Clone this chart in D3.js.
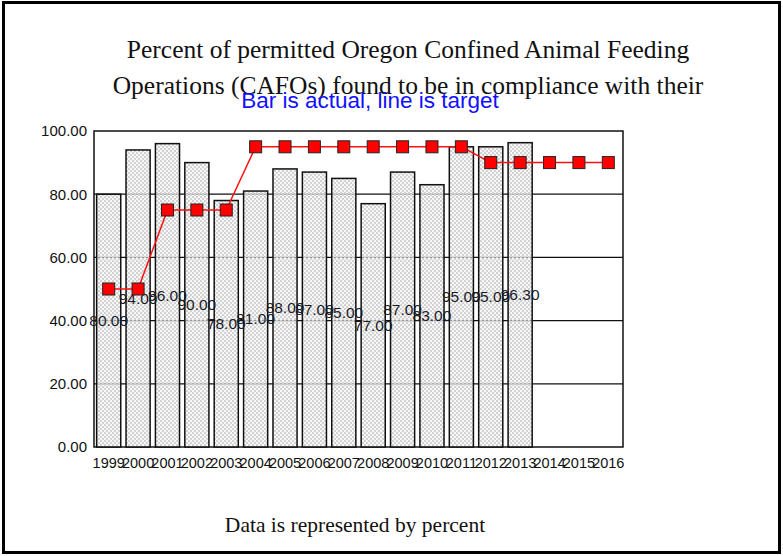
<!DOCTYPE html>
<html>
<head>
<meta charset="utf-8">
<script src="https://cdn.jsdelivr.net/npm/d3@7/dist/d3.min.js"></script>
<style>
  html, body { margin: 0; padding: 0; background: #fff; }
  svg { display: block; }
</style>
</head>
<body>
<svg id="chart" width="783" height="556"></svg>
<script>
// ---- data ----
const years = ["1999","2000","2001","2002","2003","2004","2005","2006","2007","2008","2009","2010","2011","2012","2013","2014","2015","2016"];
const actual = [80, 94, 96, 90, 78, 81, 88, 87, 85, 77, 87, 83, 95, 95, 96.3, null, null, null];
const target = [50, 50, 75, 75, 75, 95, 95, 95, 95, 95, 95, 95, 95, 90, 90, 90, 90, 90];
const yTicks = [0, 20, 40, 60, 80, 100];
const titleLines = ["Percent of permitted Oregon Confined Animal Feeding", "Operations (CAFOs) found to be in compliance with their"];
const subtitle = "Bar is actual, line is target";
const footer = "Data is represented by percent";

const svg = d3.select("#chart");
const W = 783, H = 556;
const plot = { left: 94, right: 623, top: 131, bottom: 447 };

// pattern for bars
const defs = svg.append("defs");
const pat = defs.append("pattern")
  .attr("id", "hatch").attr("patternUnits", "userSpaceOnUse")
  .attr("width", 4).attr("height", 4);
pat.append("rect").attr("x", 0).attr("y", 0).attr("width", 4).attr("height", 4).attr("fill", "#f2f2f2").attr("fill-opacity", 0.6);
pat.append("rect").attr("x", 0).attr("y", 0).attr("width", 2).attr("height", 2).attr("fill", "#d2d2d2");
pat.append("rect").attr("x", 2).attr("y", 2).attr("width", 2).attr("height", 2).attr("fill", "#d2d2d2");

// outer frame
svg.append("rect").attr("x", 3.5).attr("y", 2.5).attr("width", W - 7).attr("height", H - 6)
  .attr("fill", "#fff").attr("stroke", "#000").attr("stroke-width", 3);

const x = d3.scaleBand().domain(years).range([plot.left, plot.right])
  .paddingInner(0.18).paddingOuter(0.09);
const y = d3.scaleLinear().domain([0, 100]).range([plot.bottom, plot.top]);

// gridlines
svg.append("g").selectAll("line").data(yTicks.filter(d => d > 0 && d < 100)).join("line")
  .attr("x1", plot.left).attr("x2", plot.right)
  .attr("y1", d => y(d)).attr("y2", d => y(d))
  .attr("stroke", "#111").attr("stroke-width", 1.2);

// frame
svg.append("rect").attr("x", plot.left).attr("y", plot.top)
  .attr("width", plot.right - plot.left).attr("height", plot.bottom - plot.top)
  .attr("fill", "none").attr("stroke", "#111").attr("stroke-width", 1.5);

// y axis
const yAxis = d3.axisLeft(y).tickValues(yTicks).tickFormat(d3.format(".2f")).tickSize(0).tickPadding(7);
const yg = svg.append("g").attr("transform", `translate(${plot.left},0)`).call(yAxis);
yg.select(".domain").remove();
yg.selectAll("text").attr("font-family", "Arial, 'Liberation Sans', sans-serif").attr("font-size", 15).attr("fill", "#111");

// x axis
const xAxis = d3.axisBottom(x).tickSize(0).tickPadding(11);
const xg = svg.append("g").attr("transform", `translate(0,${plot.bottom})`).call(xAxis);
xg.select(".domain").remove();
xg.selectAll("text").attr("font-family", "Arial, 'Liberation Sans', sans-serif").attr("font-size", 14.5).attr("fill", "#111");

// bars
const barData = years.map((yr, i) => ({ yr, v: actual[i] })).filter(d => d.v != null);
svg.append("g").selectAll("rect").data(barData).join("rect")
  .attr("x", d => x(d.yr)).attr("width", x.bandwidth())
  .attr("y", d => y(d.v)).attr("height", d => y(0) - y(d.v))
  .attr("fill", "url(#hatch)").attr("stroke", "#111").attr("stroke-width", 1.5);

// data labels
svg.append("g").selectAll("text").data(barData).join("text")
  .attr("x", d => x(d.yr) + x.bandwidth() / 2)
  .attr("y", d => y(d.v / 2))
  .attr("dy", "0.35em")
  .attr("text-anchor", "middle")
  .attr("font-family", "Arial, 'Liberation Sans', sans-serif").attr("font-size", 15.5)
  .attr("fill", "#1c1c28")
  .text(d => d3.format(".2f")(d.v));

// target line
const lineData = years.map((yr, i) => ({ yr, v: target[i] }));
const line = d3.line().x(d => x(d.yr) + x.bandwidth() / 2).y(d => y(d.v));
svg.append("path").datum(lineData).attr("d", line)
  .attr("fill", "none").attr("stroke", "#ff1010").attr("stroke-width", 1.5);
const ms = 12;
svg.append("g").selectAll("rect").data(lineData).join("rect")
  .attr("x", d => x(d.yr) + x.bandwidth() / 2 - ms / 2)
  .attr("y", d => y(d.v) - ms / 2)
  .attr("width", ms).attr("height", ms)
  .attr("fill", "#ff0000").attr("stroke", "#222").attr("stroke-width", 1);

// titles
svg.append("g").selectAll("text").data(titleLines).join("text")
  .attr("x", 408).attr("y", (d, i) => 58 + i * 36)
  .attr("text-anchor", "middle")
  .attr("font-family", "'Times New Roman', 'Liberation Serif', serif").attr("font-size", 25.5)
  .attr("fill", "#111")
  .text(d => d);

svg.append("text").attr("x", 370).attr("y", 108).attr("text-anchor", "middle")
  .attr("font-family", "Arial, 'Liberation Sans', sans-serif").attr("font-size", 22.5)
  .attr("fill", "#1010ff").text(subtitle);

svg.append("text").attr("x", 355).attr("y", 532).attr("text-anchor", "middle")
  .attr("font-family", "'Times New Roman', 'Liberation Serif', serif").attr("font-size", 21.5)
  .attr("fill", "#111").text(footer);
</script>
</body>
</html>
